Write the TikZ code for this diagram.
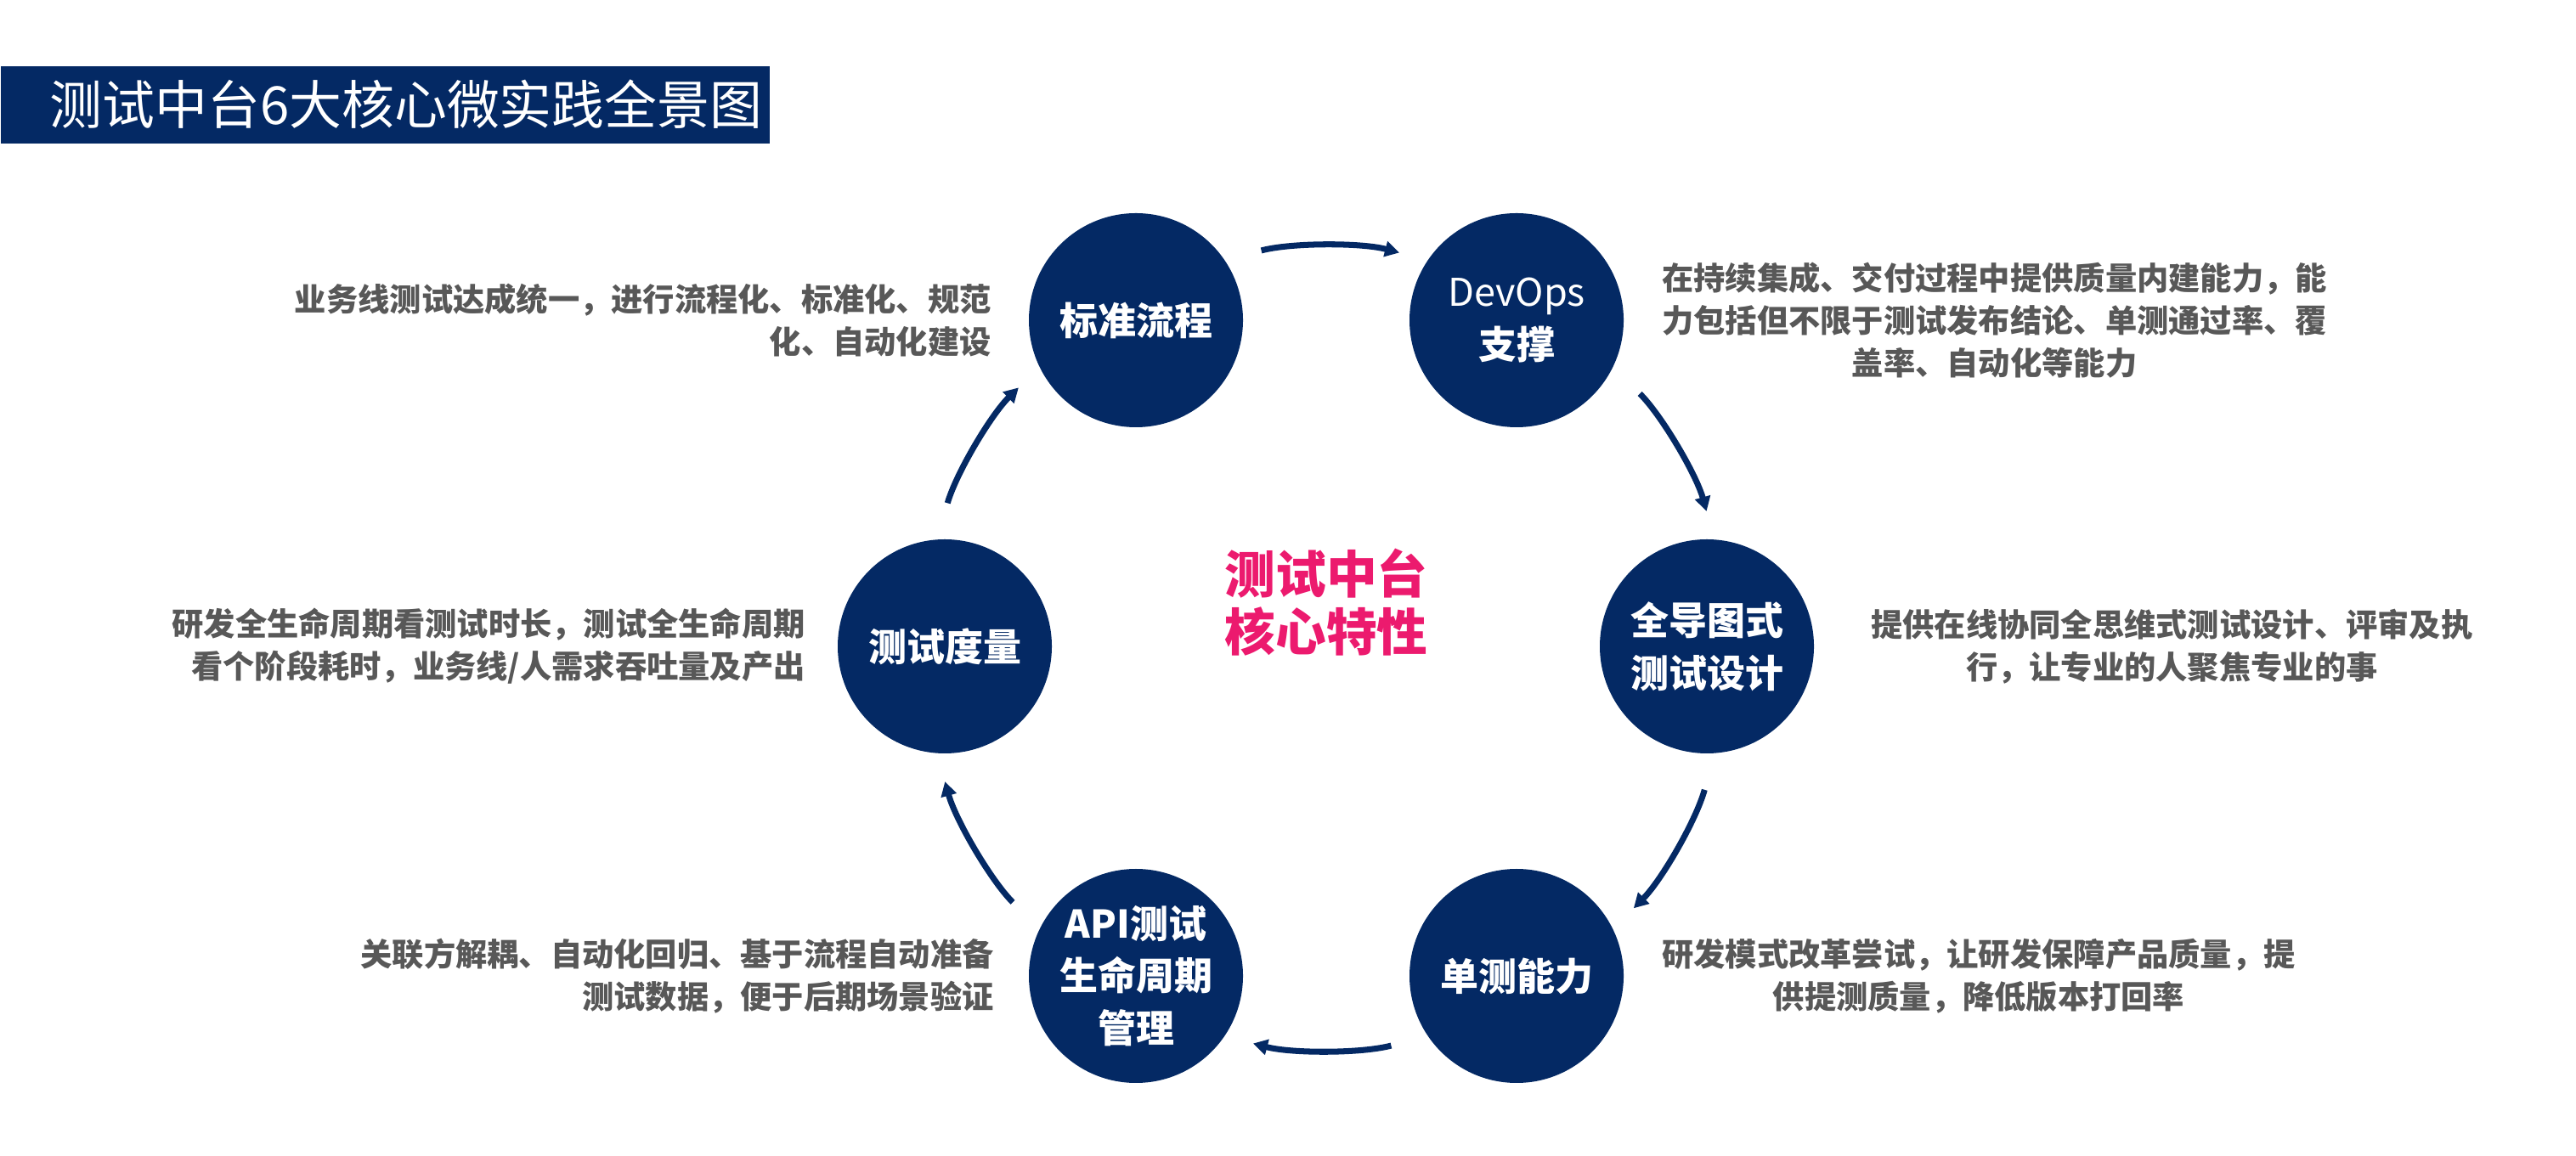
\documentclass[tikz,border=0pt]{standalone}
\usepackage{fontspec}
\setmainfont{Noto Sans CJK SC}
\usetikzlibrary{arrows.meta, positioning}

\definecolor{navy}{RGB}{4,41,100}
\definecolor{rose}{RGB}{236,26,110}
\definecolor{greytext}{RGB}{88,88,88}

\tikzset{
  feature/.style={circle, fill=navy, minimum size=2.52cm, inner sep=0pt, text=white, align=center,
    font=\fontsize{12.8}{17.6}\selectfont\bfseries},
  note/.style={text=greytext, inner sep=0pt, font=\fontsize{10.6}{14.2}\selectfont\bfseries},
  flow/.style={draw=navy, line width=2pt, -{Triangle[length=0.17cm,width=0.18cm]},
    shorten <=0.44cm, shorten >=0.34cm},
}

\begin{document}
\begin{tikzpicture}
  \useasboundingbox (0,0) rectangle (30.32,13.6);

  % title bar
  \node (title) [anchor=north west, fill=navy, text=white, inner xsep=0.58cm, inner ysep=0pt,
    minimum height=0.91cm, text width=7.89cm, align=left,
    font=\fontsize{17.6}{20}\selectfont] at (0,12.83) {测试中台6大核心微实践全景图};

  % the six practices
  \node[feature] (std)    at (13.37,9.83) {标准流程};
  \node[feature] (devops) at (17.85,9.83) {{\mdseries DevOps}\\支撑};
  \node[feature] (mind)   at (20.09,5.99) {全导图式\\测试设计};
  \node[feature] (unit)   at (17.85,2.11) {单测能力};
  \node[feature] (api)    at (13.37,2.11) {API测试\\生命周期\\管理};
  \node[feature] (metric) at (11.12,5.99) {测试度量};

  \node (core) at (15.61,6.51) [text=rose, align=center, font=\fontsize{17}{19.3}\selectfont\bfseries]
    {测试中台\\核心特性};

  % cycle
  \draw[flow] (std.34)    to[bend left=14.75, looseness=0.87] (devops.146);
  \draw[flow] (devops.-26) to[bend left=14.75, looseness=0.87] (mind.86);
  \draw[flow] (mind.-86)  to[bend left=14.75, looseness=0.87] (unit.26);
  \draw[flow] (unit.-146) to[bend left=14.75, looseness=0.87] (api.-34);
  \draw[flow] (api.154)   to[bend left=14.75, looseness=0.87] (metric.-94);
  \draw[flow] (metric.94) to[bend left=14.75, looseness=0.87] (std.206);

  % descriptions
  \node[note, left=0.43cm of std, align=right]
    {业务线测试达成统一，进行流程化、标准化、规范\\化、自动化建设};
  \node[note, right=0.44cm of devops, align=center]
    {在持续集成、交付过程中提供质量内建能力，能\\力包括但不限于测试发布结论、单测通过率、覆\\盖率、自动化等能力};
  \node[note, right=0.66cm of mind, align=center]
    {提供在线协同全思维式测试设计、评审及执\\行，让专业的人聚焦专业的事};
  \node[note, right=0.44cm of unit, align=center]
    {研发模式改革尝试，让研发保障产品质量，提\\供提测质量，降低版本打回率};
  \node[note, left=0.4cm of api, align=right]
    {关联方解耦、自动化回归、基于流程自动准备\\测试数据，便于后期场景验证};
  \node[note, left=0.37cm of metric, align=right]
    {研发全生命周期看测试时长，测试全生命周期\\看个阶段耗时，业务线/人需求吞吐量及产出};
\end{tikzpicture}
\end{document}
